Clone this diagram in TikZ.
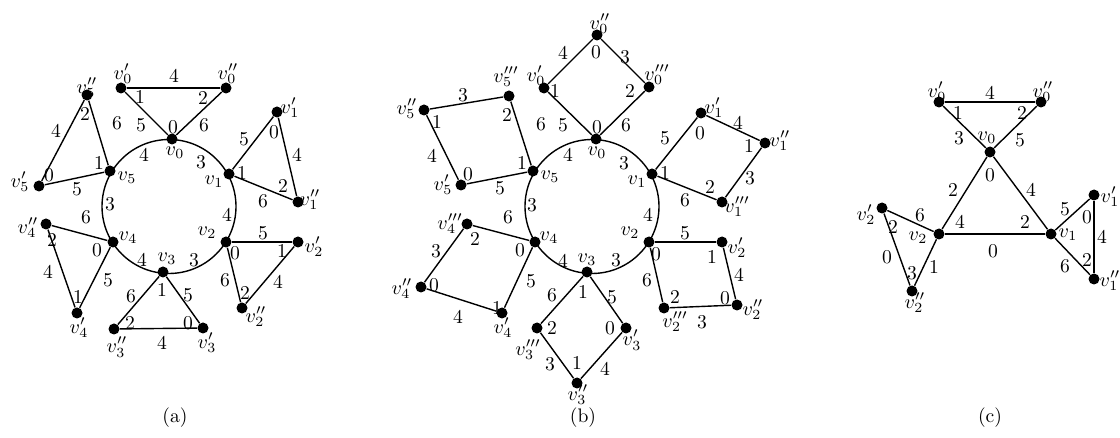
\documentclass[tikz,border=0pt]{standalone}
\begin{document}
\begin{tikzpicture}[x=0.5pt,y=-0.5pt,
  vert/.style={circle,fill=black,inner sep=0pt,minimum size=5.5pt},
  lab/.style={inner sep=0pt,font=\fontsize{9.8}{11}\selectfont},
  edge/.style={line width=0.7pt}]
\useasboundingbox (0,0) rectangle (1120,438);
% circle centres
\coordinate (ca) at (169,206.5);
\coordinate (cb) at (592,206.5);
\draw[edge] (ca) circle[radius=33.5pt];
\draw[edge] (cb) circle[radius=33.5pt];
% vertices
\foreach \n/\x/\y in {
  a0/172/139, a1/229/174, a2/226/242, a3/163/272, a4/113/242, a5/110/171,
  a0p/121/88, a0pp/226/88, a1p/277/112, a1pp/298/202, a2p/298/242, a2pp/242/308,
  a3p/203/328, a3pp/114/329, a4p/77/313, a4pp/46/224, a5p/39/186, a5pp/87/95,
  b0/596/139, b1/652/174, b2/649/242, b3/587/272, b4/535/242, b5/533/171,
  b0p/544/88, b0pp/597/35, b0ppp/649/87,
  b1p/701/113, b1pp/765/143, b1ppp/722/202,
  b2p/722/242, b2pp/737/305, b2ppp/664/308,
  b3p/626/328, b3pp/577/383, b3ppp/537/328,
  b4p/502/313, b4pp/421/287, b4ppp/467/224,
  b5p/461/185, b5pp/424/110, b5ppp/509/96,
  c0/990/152, c0p/939/102, c0pp/1041/102, c1/1051/234, c2/939/234,
  c1p/1094/195, c1pp/1094/279, c2p/882/208, c2pp/912/291}
  \node[vert] (\n) at (\x,\y) {};
% edges
\foreach \u/\v in {
  a0/a0p, a0/a0pp, a0p/a0pp, a1/a1p, a1/a1pp, a1p/a1pp,
  a2/a2p, a2/a2pp, a2p/a2pp, a3/a3p, a3/a3pp, a3p/a3pp,
  a4/a4p, a4/a4pp, a4p/a4pp, a5/a5p, a5/a5pp, a5p/a5pp,
  b0/b0p, b0p/b0pp, b0pp/b0ppp, b0ppp/b0,
  b1/b1p, b1p/b1pp, b1pp/b1ppp, b1ppp/b1,
  b2/b2p, b2p/b2pp, b2pp/b2ppp, b2ppp/b2,
  b3/b3p, b3p/b3pp, b3pp/b3ppp, b3ppp/b3,
  b4/b4p, b4p/b4pp, b4pp/b4ppp, b4ppp/b4,
  b5/b5p, b5p/b5pp, b5pp/b5ppp, b5ppp/b5,
  c0/c0p, c0/c0pp, c0p/c0pp, c0/c1, c0/c2, c1/c2,
  c1/c1p, c1/c1pp, c1p/c1pp, c2/c2p, c2/c2pp, c2p/c2pp}
  \draw[edge] (\u) -- (\v);
% vertex names
\foreach \x/\y/\t [count=\i] in {
  175/153/$v_0$, 123/74/$v_0'$, 228/74/$v_0''$, 214/182/$v_1$, 290/108/$v_1'$, 310/200/$v_1''$,
  207/233/$v_2$, 314/247/$v_2'$, 256/317/$v_2''$, 167/259/$v_3$, 207/343/$v_3'$, 117/347/$v_3''$,
  128/238/$v_4$, 79/328/$v_4'$, 28/228/$v_4''$, 127/178/$v_5$, 20/182/$v_5'$, 87/88/$v_5''$,
  597/153/$v_0$, 536/76/$v_0'$, 600/24/$v_0''$, 657/75/$v_0'''$,
  637/182/$v_1$, 714/108/$v_1'$, 780/141/$v_1''$, 737/207/$v_1'''$,
  630/233/$v_2$, 737/248/$v_2'$, 753/310/$v_2''$, 675/322/$v_2'''$,
  587/260/$v_3$, 632/340/$v_3'$, 578/395/$v_3''$, 528/350/$v_3'''$,
  549/238/$v_4$, 503/328/$v_4'$, 402/289/$v_4''$, 450/224/$v_4'''$,
  550/177/$v_5$, 443/185/$v_5'$, 407/109/$v_5''$, 506/77/$v_5'''$,
  987/138/$v_0$, 937/92/$v_0'$, 1043/92/$v_0''$, 1068/235/$v_1$, 918/238/$v_2$,
  1110/197/$v_1'$, 1110/281/$v_1''$, 866/215/$v_2'$, 915/303/$v_2''$}
  \node[lab] (n\i) at (\x,\y) {\t};
% numbers (a)
\foreach \x/\y/\t [count=\i] in {
  174/76/4, 140/97/1, 203/98/2, 117/123/6, 141/125/5, 173/127/0, 204/125/6,
  85/114/2, 56/131/4, 144/155/4, 201/162/3, 99/163/1, 49/175/0, 77/189/5, 110/204/3,
  244/139/5, 274/132/0, 297/155/4, 242/173/1, 283/186/2, 263/201/6, 227/215/4,
  86/217/6, 52/240/2, 97/250/0, 142/260/4, 194/260/3, 263/233/5, 235/253/0, 282/251/1,
  48/272/4, 108/280/5, 225/280/6, 278/282/4, 245/293/2, 78/297/1, 131/296/6, 162/290/1,
  188/295/5, 130/323/2, 188/323/0, 162/343/4}
  \node[lab] (la\i) at (\x,\y) {\t};
% numbers (b)
\foreach \x/\y/\t [count=\i] in {
  563/53/4, 596/52/0, 625/57/3, 555/91/1, 630/91/2,
  463/95/3, 437/122/1, 507/115/2, 541/124/6, 563/125/5, 597/127/0, 626/125/6,
  432/156/4, 522/163/1, 468/174/0, 500/188/5, 568/155/4, 624/163/3,
  665/138/5, 700/133/0, 738/123/4, 749/146/1, 665/173/1, 710/187/2, 750/178/3, 685/200/6,
  532/205/3, 648/215/4, 508/217/6, 475/239/2, 520/250/0, 436/251/3,
  685/233/5, 656/254/0, 712/257/1, 616/260/3, 563/261/4,
  739/275/4, 647/280/6, 531/281/5, 434/285/0,
  583/292/1, 552/295/6, 612/297/5, 675/297/2, 725/298/0,
  497/308/1, 458/317/4, 702/322/3, 552/328/2, 610/328/0,
  550/364/3, 577/363/1, 605/369/4}
  \node[lab] (lb\i) at (\x,\y) {\t};
% numbers (c)
\foreach \x/\y/\t [count=\i] in {
  990/93/4, 958/113/1, 1022/113/2, 959/138/3, 1020/140/5, 990/175/0, 953/190/2, 1031/190/4,
  920/215/6, 960/222/4, 1025/222/2, 893/227/2, 993/251/0, 887/257/0, 934/267/1, 912/273/3,
  1065/209/5, 1087/217/0, 1102/237/4, 1087/260/2, 1065/266/6}
  \node[lab] (lc\i) at (\x,\y) {\t};
% captions
\node[lab] (capa) at (175,418) {(a)};
\node[lab] (capb) at (583,418) {(b)};
\node[lab] (capc) at (990,418) {(c)};
\end{tikzpicture}
\end{document}
